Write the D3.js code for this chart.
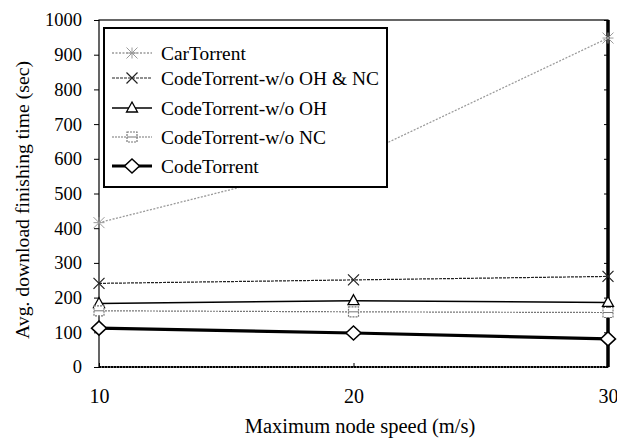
<!DOCTYPE html>
<html><head><meta charset="utf-8">
<script src="https://cdn.jsdelivr.net/npm/d3@7/dist/d3.min.js"></script>
<style>body{margin:0;background:#fff}svg{display:block}text{font-family:"Liberation Serif","DejaVu Serif",serif;fill:#000}</style>
</head><body><svg id="c" width="617" height="441"></svg>
<script>
const speeds = [10, 20, 30];
const carTorrent = [416, 600, 948];
const woOhNc = [241, 251, 261];
const woOh = [183, 191, 186];
const woNc = [162, 159, 157];
const codeTorrent = [112, 98, 81];
const yTicks = [0,100,200,300,400,500,600,700,800,900,1000];
const xTicks = [10, 20, 30];
const seriesNames = ["CarTorrent","CodeTorrent-w/o OH & NC","CodeTorrent-w/o OH","CodeTorrent-w/o NC","CodeTorrent"];

const svg = d3.select("#c");
const L = 99, R = 608, T = 20, B = 367;
const x = d3.scaleLinear().domain([10,30]).range([L,R]);
const y = d3.scaleLinear().domain([0,1000]).range([B,T]);

const styles = [
  {vals: carTorrent, color:"#9a9a9a", w:1.3, dash:"2,1.5", marker:"star"},
  {vals: woOhNc, color:"#222", w:1.2, dash:"3,1", marker:"x"},
  {vals: woOh, color:"#000", w:1.6, dash:null, marker:"tri"},
  {vals: woNc, color:"#777", w:1.2, dash:"2,1", marker:"sq"},
  {vals: codeTorrent, color:"#000", w:3.2, dash:null, marker:"dia"}
];

function drawMarker(g, type, cx, cy, color){
  const s = 5.5;
  if(type==="star"){
    g.append("path").attr("d",`M${cx-s},${cy-s}L${cx+s},${cy+s}M${cx-s},${cy+s}L${cx+s},${cy-s}M${cx},${cy-s}L${cx},${cy+s}M${cx-s},${cy}L${cx+s},${cy}`)
      .attr("stroke",color).attr("stroke-width",1).attr("fill","none");
  } else if(type==="x"){
    g.append("path").attr("d",`M${cx-s},${cy-s}L${cx+s},${cy+s}M${cx-s},${cy+s}L${cx+s},${cy-s}`)
      .attr("stroke",color).attr("stroke-width",1.2).attr("fill","none");
  } else if(type==="tri"){
    g.append("path").attr("d",`M${cx},${cy-6}L${cx+5.5},${cy+4}L${cx-5.5},${cy+4}Z`)
      .attr("stroke",color).attr("stroke-width",1.3).attr("fill","#fff");
  } else if(type==="sq"){
    g.append("rect").attr("x",cx-5).attr("y",cy-5).attr("width",10).attr("height",10)
      .attr("stroke",color).attr("stroke-width",1.2).attr("fill","#fff").attr("stroke-dasharray","2,1");
    g.append("line").attr("x1",cx-5).attr("x2",cx+5).attr("y1",cy).attr("y2",cy).attr("stroke",color).attr("stroke-width",1);
  } else if(type==="dia"){
    g.append("path").attr("d",`M${cx},${cy-7}L${cx+7.5},${cy}L${cx},${cy+7}L${cx-7.5},${cy}Z`)
      .attr("stroke",color).attr("stroke-width",1.5).attr("fill","#fff");
  }
}

// frame
svg.append("rect").attr("x",L).attr("y",T).attr("width",R-L).attr("height",B-T)
  .attr("fill","none").attr("stroke","#000").attr("stroke-width",1.2);
svg.append("line").attr("x1",R).attr("x2",R).attr("y1",T).attr("y2",B).attr("stroke","#000").attr("stroke-width",3.5);
svg.append("line").attr("x1",L).attr("x2",R).attr("y1",B).attr("y2",B).attr("stroke","#000").attr("stroke-width",2).attr("stroke-dasharray","2,1");

// axes
const yAxis = svg.append("g").attr("transform",`translate(${L},0)`)
  .call(d3.axisLeft(y).tickValues(yTicks).tickFormat(d3.format("d")).tickSize(5).tickPadding(12));
yAxis.select(".domain").remove();
yAxis.selectAll("text").attr("font-size",18.5).style("font-family","'Liberation Serif',serif");
const yAxisR = svg.append("g").attr("transform",`translate(${R},0)`)
  .call(d3.axisLeft(y).tickValues(yTicks).tickSize(4).tickFormat(""));
yAxisR.select(".domain").remove();
const xAxis = svg.append("g").attr("transform",`translate(0,${B})`)
  .call(d3.axisBottom(x).tickValues(xTicks).tickSize(-4).tickPadding(22));
xAxis.select(".domain").remove();
xAxis.selectAll("text").attr("font-size",20).style("font-family","'Liberation Serif',serif");

// series
const line = d3.line().x((d,i)=>x(speeds[i])).y(d=>y(d));
styles.forEach(st=>{
  svg.append("path").datum(st.vals).attr("d",line).attr("fill","none")
    .attr("stroke",st.color).attr("stroke-width",st.w).attr("stroke-dasharray",st.dash);
});
styles.forEach(st=>{
  const g = svg.append("g");
  st.vals.forEach((v,i)=>drawMarker(g, st.marker, x(speeds[i]), y(v), st.color));
});

// legend
const lg = svg.append("g");
lg.append("rect").attr("x",104).attr("y",28).attr("width",283).attr("height",159)
  .attr("fill","#fff").attr("stroke","#000").attr("stroke-width",2);
const legY = [53, 78, 108, 137, 166];
styles.forEach((st,i)=>{
  lg.append("line").attr("x1",112).attr("x2",152).attr("y1",legY[i]).attr("y2",legY[i])
    .attr("stroke",st.color).attr("stroke-width",st.w).attr("stroke-dasharray",st.dash);
  drawMarker(lg, st.marker, 132, legY[i], st.color);
  lg.append("text").attr("x",161).attr("y",legY[i]).attr("dy","0.35em").attr("font-size",19.4).text(seriesNames[i]);
});

// titles
svg.append("text").attr("x",360).attr("y",433).attr("text-anchor","middle").attr("font-size",20.5).text("Maximum node speed (m/s)");
svg.append("text").attr("transform",`translate(29,200) rotate(-90)`).attr("text-anchor","middle").attr("font-size",19.7).text("Avg. download finishing time (sec)");
</script></body></html>
